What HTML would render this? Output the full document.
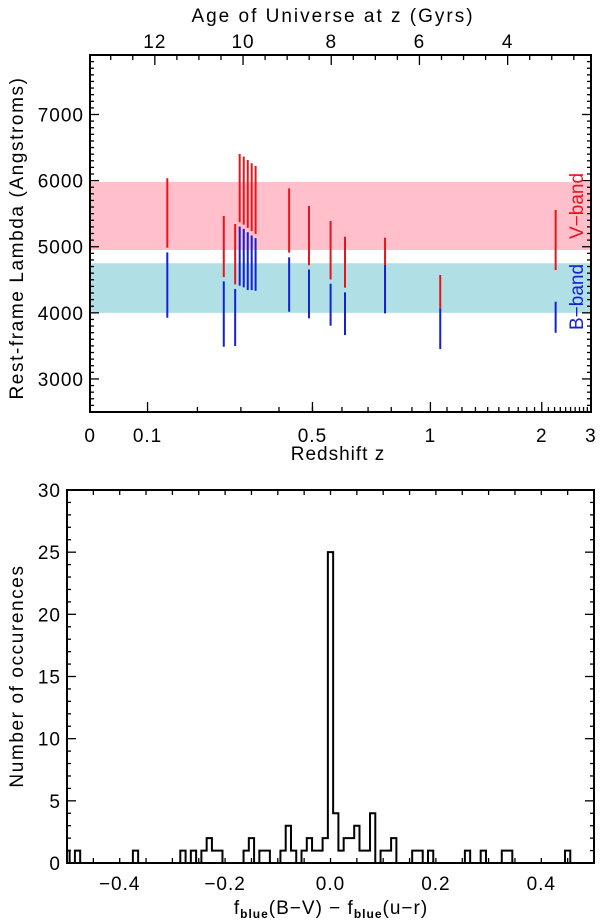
<!DOCTYPE html>
<html><head><meta charset="utf-8"><style>
html,body{margin:0;padding:0;background:#fff;}
svg{display:block;font-family:"Liberation Sans",sans-serif;letter-spacing:1px;}
</style></head><body>
<svg id="fig" width="600" height="924" viewBox="0 0 600 924" xmlns="http://www.w3.org/2000/svg">
<defs><clipPath id="bclip"><rect x="67" y="490" width="527" height="373"/></clipPath></defs>
<g id="topPanel"></g>
<g id="botPanel"></g>
</svg>
<script>
// ---- Top panel data ----
const zVals = [0.138,0.259,0.286,0.297,0.307,0.317,0.327,0.337,0.429,0.489,0.560,0.611,0.772,1.058,2.218];
const vTop = [6035,5464,5343,6402,6362,6312,6262,6221,5883,5616,5389,5151,5136,4572,5555];
const vBot = [4985,4540,4430,5370,5335,5285,5235,5195,4910,4720,4505,4380,4723,4068,4648];
const bTop = [4915,4475,4360,5305,5270,5220,5170,5130,4840,4655,4440,4310,4723,4068,4168];
const bBot = [3926,3487,3498,4410,4386,4345,4345,4334,4017,3917,3805,3664,3992,3452,3699];
const vBand = [4950,5980];
const bBand = [4000,4750];
const yTicksTop = [3000,4000,5000,6000,7000];
const zTickLabels = [0,0.1,0.5,1,2,3];
const ageTickLabels = [12,10,8,6,4];
// ---- Bottom panel data ----
const binIdx = [-50,-48,-37,-28,-26,-24,-23,-22,-21,-16,-15,-13,-12,-9,-8,-7,-5,-4,-3,-2,-1,0,1,2,3,4,5,6,7,8,10,11,12,16,17,19,26,29,33,34,45];
const binCounts = [1,1,1,1,1,1,2,1,1,1,2,1,1,1,3,1,1,2,1,1,2,25,4,1,2,2,3,1,1,4,1,1,2,1,1,1,1,1,1,1,1];
const binWidth = 0.01;
const xTicksBot = [-0.4,-0.2,0.0,0.2,0.4];
const yTicksBot = [0,5,10,15,20,25,30];

const NS="http://www.w3.org/2000/svg";
const FS=19;
function mk(tag,attrs,parent){const el=document.createElementNS(NS,tag);for(const k in attrs)el.setAttribute(k,attrs[k]);parent.appendChild(el);return el;}

// ===== TOP PANEL =====
const topG=document.getElementById('topPanel');
const T={l:90,r:591,t:55,b:412,ymin:2500,ymax:7900,age0:13.47,age1:2.11};
function ageOfZ(z){return 11.13*Math.asinh(1.5275*Math.pow(1+z,-1.5));}
function xAge(a){return T.l+(T.age0-a)/(T.age0-T.age1)*(T.r-T.l);}
function xZ(z){return xAge(ageOfZ(z));}
function yL(v){return T.b-(v-T.ymin)/(T.ymax-T.ymin)*(T.b-T.t);}

let e;
e=mk('rect',{x:T.l,y:yL(vBand[1]),width:T.r-T.l,height:yL(vBand[0])-yL(vBand[1]),fill:'#ffc0cb'},topG);


e=mk('rect',{x:T.l,y:yL(bBand[1]),width:T.r-T.l,height:yL(bBand[0])-yL(bBand[1]),fill:'#b0dfe5'},topG);



for(let i=0;i<zVals.length;i++){
  const x=xZ(zVals[i]);
  e=mk('line',{x1:x,x2:x,y1:yL(vTop[i]),y2:yL(vBot[i]),stroke:'#e8141c','stroke-width':2},topG);
  
  
  e=mk('line',{x1:x,x2:x,y1:yL(bTop[i]),y2:yL(bBot[i]),stroke:'#1420d4','stroke-width':2},topG);
  
  
}

e=mk('rect',{x:T.l,y:T.t,width:T.r-T.l,height:T.b-T.t,fill:'none',stroke:'#000','stroke-width':2},topG);



for(let v=2600;v<=7900;v+=100){
  const y=yL(v);const major=v%1000===0;const len=major?9:4;
  mk('line',{x1:T.l,x2:T.l+len,y1:y,y2:y,stroke:'#000','stroke-width':1.3},topG);
  mk('line',{x1:T.r-len,x2:T.r,y1:y,y2:y,stroke:'#000','stroke-width':1.3},topG);
}
yTicksTop.forEach(v=>{
  e=mk('text',{x:T.l-6,y:yL(v)+7,'text-anchor':'end','font-size':FS},topG);e.textContent=v;
  
  
});
const zMinor=[];for(let z=0.2;z<0.95;z+=0.1)zMinor.push(z);for(let z=1.1;z<2.95;z+=0.1)if(Math.abs(z-2)>0.01)zMinor.push(z);
zMinor.forEach(z=>{const x=xZ(z);mk('line',{x1:x,x2:x,y1:T.b,y2:T.b-5,stroke:'#000','stroke-width':1.3},topG);});
zTickLabels.forEach(z=>{const x=xZ(z);mk('line',{x1:x,x2:x,y1:T.b,y2:T.b-10,stroke:'#000','stroke-width':1.3},topG);
  e=mk('text',{x:x,y:T.b+30,'text-anchor':'middle','font-size':FS},topG);e.textContent=z;
  
  });
for(let a=2.5;a<=13.01;a+=0.5){const x=xAge(a);const major=ageTickLabels.includes(a);
  mk('line',{x1:x,x2:x,y1:T.t,y2:T.t+(major?10:5),stroke:'#000','stroke-width':1.3},topG);}
ageTickLabels.forEach(a=>{e=mk('text',{x:xAge(a),y:T.t-7,'text-anchor':'middle','font-size':FS},topG);e.textContent=a;
  
  });

e=mk('text',{x:333,y:22,'text-anchor':'middle','font-size':FS,'letter-spacing':2},topG);e.textContent='Age of Universe at z (Gyrs)';


e=mk('text',{x:338,y:460,'text-anchor':'middle','font-size':FS},topG);e.textContent='Redshift z';


e=mk('text',{x:0,y:0,'text-anchor':'middle','font-size':FS,'letter-spacing':1.6,transform:'translate(23,238) rotate(-90)'},topG);e.textContent='Rest-frame Lambda (Angstroms)';


e=mk('text',{x:0,y:0,'text-anchor':'middle','font-size':19,'letter-spacing':0,fill:'#e8141c',transform:'translate(583,206) rotate(-90)'},topG);e.textContent='V\u2212band';


e=mk('text',{x:0,y:0,'text-anchor':'middle','font-size':19,'letter-spacing':0,fill:'#1420d4',transform:'translate(583,297) rotate(-90)'},topG);e.textContent='B\u2212band';



// ===== BOTTOM PANEL =====
const botG=document.getElementById('botPanel');
const B={l:67,r:594,t:490,b:863,xmin:-0.5,xmax:0.5,ymin:0,ymax:30};
function xB(v){return B.l+(v-B.xmin)/(B.xmax-B.xmin)*(B.r-B.l);}
function yB(v){return B.b-(v-B.ymin)/(B.ymax-B.ymin)*(B.b-B.t);}

const counts={};binIdx.forEach((k,i)=>counts[k]=binCounts[i]);
const kmin=Math.min(...binIdx)-1,kmax=Math.max(...binIdx)+1;
let d='';let prev=0;
for(let k=kmin;k<=kmax;k++){
  const c=counts[k]||0;const x0=xB((k-0.5)*binWidth);
  if(k===kmin)d+='M'+x0+','+yB(c);
  else if(c!==prev)d+='L'+x0+','+yB(prev)+'L'+x0+','+yB(c);
  prev=c;
}
d+='L'+xB((kmax+0.5)*binWidth)+','+yB(prev);
e=mk('path',{d:d,fill:'none',stroke:'#000','stroke-width':2,'clip-path':'url(#bclip)'},botG);



e=mk('rect',{x:B.l,y:B.t,width:B.r-B.l,height:B.b-B.t,fill:'none',stroke:'#000','stroke-width':2},botG);


for(let v=-0.45;v<0.5;v+=0.05){const x=xB(v);
  mk('line',{x1:x,x2:x,y1:B.b,y2:B.b-5,stroke:'#000','stroke-width':1.3},botG);
  mk('line',{x1:x,x2:x,y1:B.t,y2:B.t+5,stroke:'#000','stroke-width':1.3},botG);}
for(let v=1;v<30;v++){const y=yB(v);const len=v%5===0?9:4;
  mk('line',{x1:B.l,x2:B.l+len,y1:y,y2:y,stroke:'#000','stroke-width':1.3},botG);
  mk('line',{x1:B.r-len,x2:B.r,y1:y,y2:y,stroke:'#000','stroke-width':1.3},botG);}
xTicksBot.forEach(v=>{e=mk('text',{x:xB(v),y:B.b+27,'text-anchor':'middle','font-size':FS},botG);
  e.textContent=(v<0?'\u2212':'')+Math.abs(v).toFixed(1);
  
  });
yTicksBot.forEach(v=>{e=mk('text',{x:B.l-6,y:yB(v)+7,'text-anchor':'end','font-size':FS},botG);e.textContent=v;
  
  });
e=mk('text',{x:0,y:0,'text-anchor':'middle','font-size':FS,'letter-spacing':1.6,transform:'translate(23,676) rotate(-90)'},botG);e.textContent='Number of occurences';


e=mk('text',{x:331,y:914,'text-anchor':'middle','font-size':FS},botG);
e.innerHTML='f<tspan font-size="12" font-weight="bold" dy="4">blue</tspan><tspan dy="-4">(B\u2212V)  \u2212  f</tspan><tspan font-size="12" font-weight="bold" dy="4">blue</tspan><tspan dy="-4">(u\u2212r)</tspan>';


</script>
</body></html>
